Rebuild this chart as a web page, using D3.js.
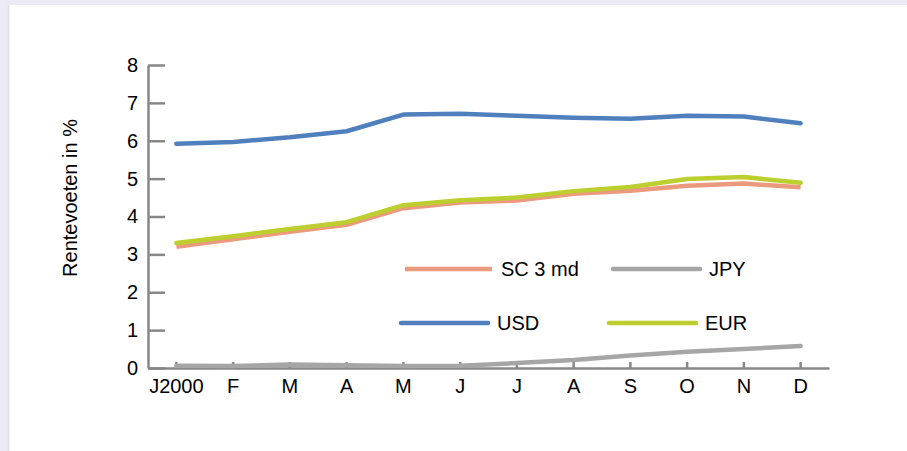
<!DOCTYPE html>
<html>
<head>
<meta charset="utf-8">
<script src="https://cdn.jsdelivr.net/npm/d3@7"></script>
<style>
  body { margin: 0; background: #ecebf5; }
  svg { display: block; font-family: "Liberation Sans", Arial, sans-serif; }
</style>
</head>
<body>
<svg id="chart" width="907" height="451"></svg>
<script>
// rentevoeten 2000, per maand

const months = ["J2000", "F", "M", "A", "M", "J", "J", "A", "S", "O", "N", "D"];
const yTicks = [0, 1, 2, 3, 4, 5, 6, 7, 8];

const sc3md = [3.20, 3.40, 3.60, 3.78, 4.22, 4.37, 4.42, 4.60, 4.68, 4.81, 4.87, 4.77];
const jpy   = [0.06, 0.05, 0.09, 0.07, 0.05, 0.06, 0.13, 0.21, 0.33, 0.43, 0.50, 0.58];
const usd   = [5.92, 5.97, 6.09, 6.25, 6.69, 6.71, 6.66, 6.61, 6.58, 6.66, 6.64, 6.46];
const eur   = [3.30, 3.48, 3.67, 3.85, 4.30, 4.43, 4.50, 4.67, 4.78, 4.99, 5.04, 4.89];

const seriesNames = ["SC 3 md", "JPY", "USD", "EUR"];
const seriesColors = ["#ec9a7e", "#a6a6a6", "#4f80bd", "#bccf2e"];
const seriesValues = [sc3md, jpy, usd, eur];

const fontSize = "20px";

const svg = d3.select("#chart");

// white panel
svg.append("rect").attr("x", 8).attr("y", 5).attr("width", 899).attr("height", 446).attr("fill", "white");
svg.append("line").attr("x1", 8.5).attr("x2", 8.5).attr("y1", 5).attr("y2", 451)
  .attr("stroke", "#dedde8").attr("stroke-width", 1.5);

const x = d3.scaleBand().domain(d3.range(months.length)).range([148, 829]);
const y = d3.scaleLinear().domain([0, 8]).range([368, 65]);
const xc = i => x(i) + x.bandwidth() / 2;

const axisColor = "#878787";

// y axis
const gy = svg.append("g").attr("transform", "translate(148,0)")
  .call(d3.axisLeft(y).tickValues(yTicks).tickSizeInner(-17).tickSizeOuter(0).tickPadding(10));
gy.selectAll("text").style("font-size", fontSize).attr("fill", "#000");

// x axis
const gx = svg.append("g").attr("transform", "translate(0,368)")
  .call(d3.axisBottom(x).tickFormat(i => months[i]).tickSizeInner(-6).tickSizeOuter(0).tickPadding(11));
gx.selectAll("text").style("font-size", fontSize).attr("fill", "#000");

[gx, gy].forEach(g => {
  g.select(".domain").attr("stroke", axisColor).attr("stroke-width", 2.5);
  g.selectAll(".tick line").attr("stroke", axisColor).attr("stroke-width", 2.5);
});

svg.append("text")
  .attr("transform", "translate(77,198) rotate(-90)")
  .attr("text-anchor", "middle")
  .style("font-size", fontSize)
  .text("Rentevoeten in %");

// lines
const line = d3.line().x((d, i) => xc(i)).y(d => y(d));

seriesValues.forEach((vals, k) => {
  svg.append("path")
    .datum(vals)
    .attr("d", line)
    .attr("fill", "none")
    .attr("stroke", seriesColors[k])
    .attr("stroke-width", 4.5)
    .attr("stroke-linejoin", "round")
    .attr("stroke-linecap", k === 0 ? "butt" : "round");
});

// legend, 2 x 2
const legendPos = [[405, 269], [613, 269], [401, 323], [609, 323]];
seriesNames.forEach((name, k) => {
  const [lx, ly] = legendPos[k];
  svg.append("line")
    .attr("x1", lx).attr("x2", lx + 87)
    .attr("y1", ly).attr("y2", ly)
    .attr("stroke", seriesColors[k])
    .attr("stroke-width", 4.5)
    .attr("stroke-linecap", k === 0 ? "butt" : "round");
  svg.append("text")
    .attr("x", lx + 96)
    .attr("y", ly + 7)
    .style("font-size", fontSize)
    .text(name);
});
</script>
</body>
</html>
